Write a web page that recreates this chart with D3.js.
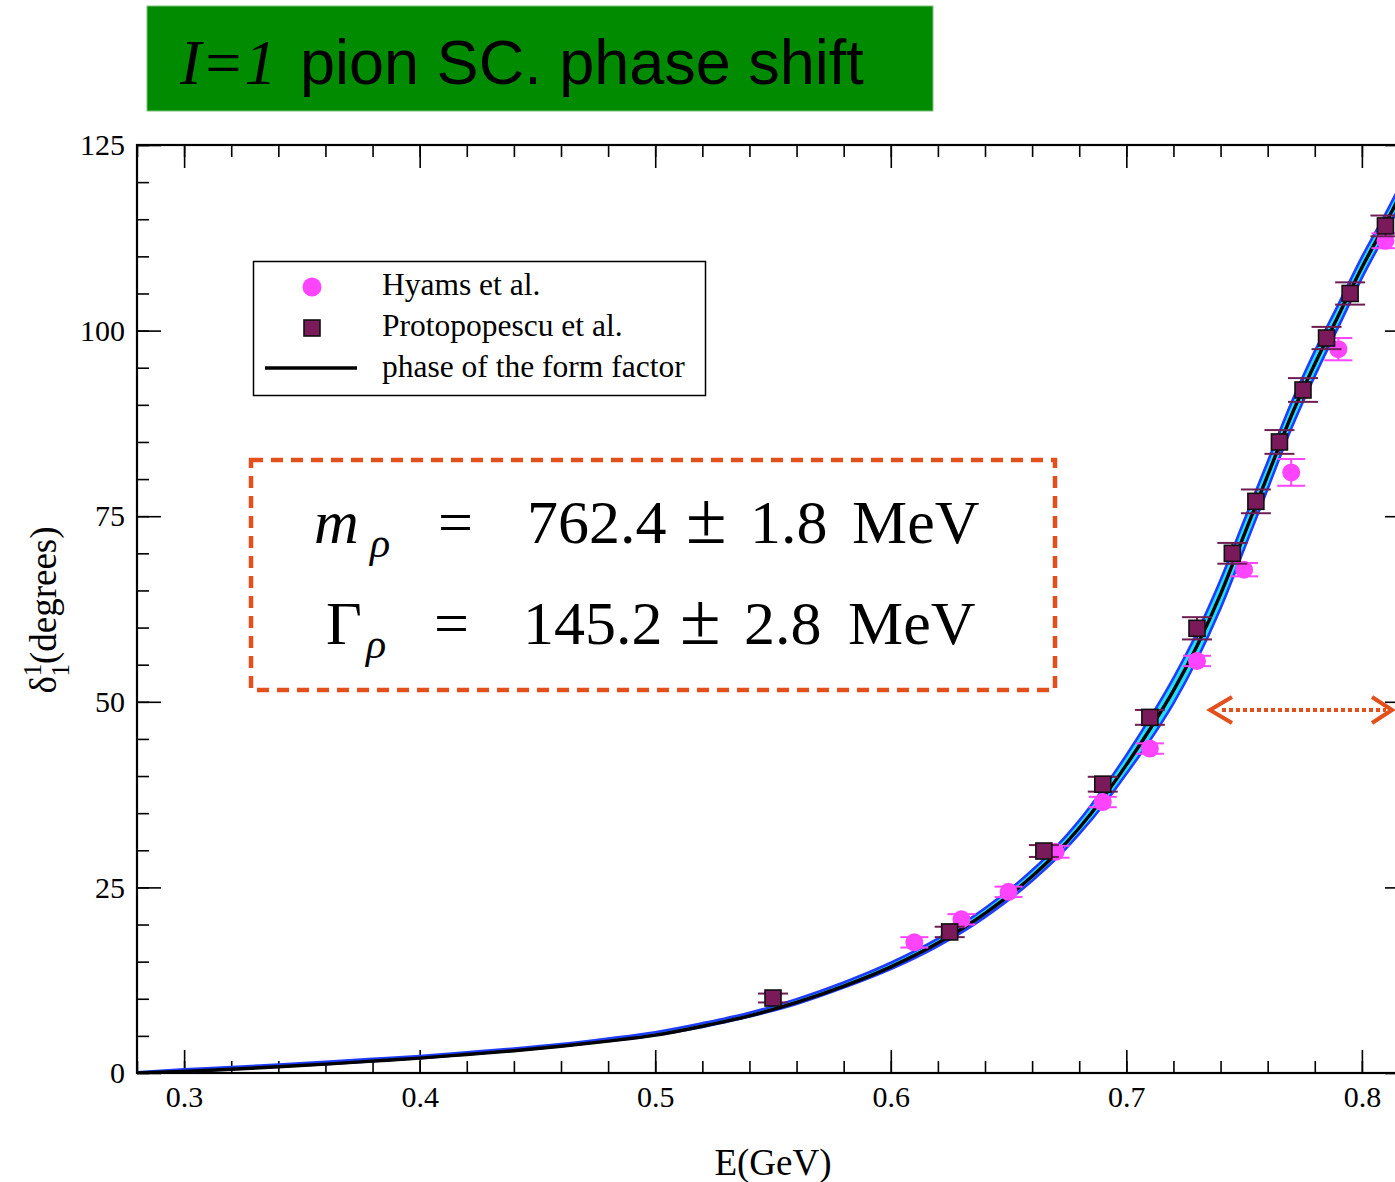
<!DOCTYPE html>
<html>
<head>
<meta charset="utf-8">
<script src="https://cdn.jsdelivr.net/npm/d3@7"></script>
<style>
  html, body { margin: 0; padding: 0; background: #ffffff; }
  svg { display: block; }
</style>
</head>
<body>
<svg id="chart" width="1395" height="1182"></svg>
<script>
// ---------------- data ----------------
const curveE      = [0.28, 0.30, 0.32, 0.34, 0.36, 0.38, 0.40, 0.42, 0.44, 0.46, 0.48, 0.50, 0.52, 0.54, 0.56, 0.58, 0.60, 0.62, 0.64, 0.66, 0.67, 0.68, 0.69, 0.70, 0.71, 0.72, 0.73, 0.74, 0.75, 0.76, 0.77, 0.78, 0.79, 0.80, 0.81, 0.82];
const curveCenter = [0.0, 0.2, 0.5, 0.85, 1.2, 1.6, 2.0, 2.5, 3.0, 3.6, 4.3, 5.1, 6.3, 7.7, 9.5, 11.7, 14.3, 17.5, 21.5, 26.5, 29.5, 33.0, 37.0, 41.5, 46.3, 51.5, 57.5, 64.5, 72.5, 80.5, 88.5, 95.5, 102.0, 108.5, 114.4, 120.6];
const bandHigh    = [0.1, 0.5, 0.8, 1.15, 1.5, 1.9, 2.3, 2.8, 3.3, 3.9, 4.65, 5.5, 6.7, 8.1, 9.95, 12.2, 14.85, 18.1, 22.2, 27.3, 30.4, 34.0, 38.2, 42.8, 47.8, 53.2, 59.3, 66.4, 74.4, 82.3, 90.2, 97.2, 103.5, 109.9, 115.7, 121.9];
const bandLow     = [0.0, 0.2, 0.5, 0.85, 1.2, 1.6, 2.0, 2.5, 3.0, 3.6, 4.3, 5.1, 6.2, 7.6, 9.3, 11.5, 14.0, 17.1, 21.0, 25.9, 28.8, 32.2, 36.0, 40.3, 44.8, 49.8, 55.7, 62.6, 70.6, 78.7, 86.8, 93.9, 100.5, 107.1, 113.1, 119.3];

const hyamsE     = [0.61, 0.63, 0.65, 0.67, 0.69, 0.71, 0.73, 0.75, 0.77, 0.79, 0.81];
const hyamsDelta = [17.6, 20.7, 24.4, 29.8, 36.5, 43.7, 55.5, 67.8, 80.9, 97.5, 112.1];
const hyamsErr   = [0.7, 0.7, 0.7, 0.8, 0.7, 0.7, 0.7, 0.9, 1.8, 1.5, 1.0];

const protoE     = [0.55, 0.625, 0.665, 0.69, 0.71, 0.73, 0.745, 0.755, 0.765, 0.775, 0.785, 0.795, 0.81];
const protoDelta = [10.1, 19.0, 29.9, 38.9, 47.9, 59.9, 70.0, 77.0, 85.0, 92.0, 99.0, 105.0, 114.1];
const protoErr   = [0.6, 0.7, 0.8, 1.0, 1.0, 1.5, 1.4, 1.6, 1.6, 1.6, 1.5, 1.5, 1.4];

const xMajorTicks = [0.3, 0.4, 0.5, 0.6, 0.7, 0.8];
const xTickLabels = ["0.3", "0.4", "0.5", "0.6", "0.7", "0.8"];
const yMajorTicks = [0, 25, 50, 75, 100, 125];
const yTickLabels = ["0", "25", "50", "75", "100", "125"];

const legendLabels = ["Hyams et al.", "Protopopescu et al.", "phase of the form factor"];

// ---------------- layout ----------------
const svg = d3.select("#chart");
const plot = {left: 137, right: 1409, top: 145, bottom: 1073};
const x = d3.scaleLinear().domain([0.28, 0.82]).range([plot.left, plot.right]);
const y = d3.scaleLinear().domain([0, 125]).range([plot.bottom, plot.top]);

const SERIF = "'Liberation Serif', 'Times New Roman', serif";
const SANS = "'Liberation Sans', Arial, sans-serif";

svg.append("rect").attr("width", 1395).attr("height", 1182).attr("fill", "#ffffff");

// Title box
svg.append("rect")
  .attr("x", 147).attr("y", 6).attr("width", 786).attr("height", 105)
  .attr("fill", "#008b00").attr("stroke", "#7cc47c").attr("stroke-width", 1);
const title = svg.append("text")
  .attr("x", 180).attr("y", 84)
  .attr("font-size", 63).attr("fill", "#000");
title.append("tspan").attr("font-family", SERIF).attr("font-style", "italic").attr("font-size", 64).text("I=1");
title.append("tspan").attr("font-family", SANS).attr("dx", 6).text(" pion SC. phase shift");

// clip
svg.append("clipPath").attr("id", "plotclip")
  .append("rect").attr("x", plot.left).attr("y", plot.top)
  .attr("width", plot.right - plot.left).attr("height", plot.bottom - plot.top);

// ---------------- axes ----------------
const minorX = d3.range(0.28, 0.8201, 0.02).map(v => +v.toFixed(3));
const minorY = d3.range(0, 126, 5);

function styleAxis(g) {
  g.select(".domain").remove();
  g.selectAll("line").attr("stroke", "#000").attr("stroke-width", 1.6);
  g.selectAll("text").attr("font-family", SERIF).attr("font-size", 30).attr("fill", "#000");
}

// bottom
svg.append("g").attr("transform", `translate(0,${plot.bottom})`)
  .call(d3.axisBottom(x).tickValues(minorX).tickSizeInner(-12).tickSizeOuter(0).tickFormat(""))
  .call(styleAxis);
svg.append("g").attr("transform", `translate(0,${plot.bottom})`)
  .call(d3.axisBottom(x).tickValues(xMajorTicks).tickSizeInner(-23).tickSizeOuter(0).tickPadding(13)
    .tickFormat((d, i) => xTickLabels[i]))
  .call(styleAxis);
// top
svg.append("g").attr("transform", `translate(0,${plot.top})`)
  .call(d3.axisTop(x).tickValues(minorX).tickSizeInner(-12).tickSizeOuter(0).tickFormat(""))
  .call(styleAxis);
svg.append("g").attr("transform", `translate(0,${plot.top})`)
  .call(d3.axisTop(x).tickValues(xMajorTicks).tickSizeInner(-23).tickSizeOuter(0).tickFormat(""))
  .call(styleAxis);
// left
svg.append("g").attr("transform", `translate(${plot.left},0)`)
  .call(d3.axisLeft(y).tickValues(minorY).tickSizeInner(-12).tickSizeOuter(0).tickFormat(""))
  .call(styleAxis);
svg.append("g").attr("transform", `translate(${plot.left},0)`)
  .call(d3.axisLeft(y).tickValues(yMajorTicks).tickSizeInner(-24).tickSizeOuter(0).tickPadding(12)
    .tickFormat((d, i) => yTickLabels[i]))
  .call(styleAxis);
// right
svg.append("g").attr("transform", `translate(${plot.right},0)`)
  .call(d3.axisRight(y).tickValues(minorY).tickSizeInner(-12).tickSizeOuter(0).tickFormat(""))
  .call(styleAxis);
svg.append("g").attr("transform", `translate(${plot.right},0)`)
  .call(d3.axisRight(y).tickValues(yMajorTicks).tickSizeInner(-24).tickSizeOuter(0).tickFormat(""))
  .call(styleAxis);

// frame
svg.append("rect")
  .attr("x", plot.left).attr("y", plot.top)
  .attr("width", plot.right - plot.left).attr("height", plot.bottom - plot.top)
  .attr("fill", "none").attr("stroke", "#000").attr("stroke-width", 2.2);

// axis titles
svg.append("text")
  .attr("x", 773).attr("y", 1175).attr("text-anchor", "middle")
  .attr("font-family", SERIF).attr("font-size", 37).text("E(GeV)");

const yt = svg.append("text")
  .attr("transform", "translate(56,610) rotate(-90)")
  .attr("text-anchor", "middle")
  .attr("font-family", SERIF).attr("font-size", 37);
yt.append("tspan").text("δ");
yt.append("tspan").attr("font-size", 25).attr("dy", -15).text("1");
yt.append("tspan").attr("font-size", 25).attr("dx", -12).attr("dy", 28).text("1");
yt.append("tspan").attr("dy", -13).text("(degrees)");

// ---------------- curves ----------------
const curveData = curveE.map((e, i) => ({e, c: curveCenter[i], hi: bandHigh[i], lo: bandLow[i]}));
const gCurves = svg.append("g").attr("clip-path", "url(#plotclip)");

gCurves.append("path").datum(curveData)
  .attr("d", d3.area().x(d => x(d.e)).y0(d => y(d.lo)).y1(d => y(d.hi)).curve(d3.curveMonotoneX))
  .attr("fill", "#1fe0ff");
gCurves.append("path").datum(curveData)
  .attr("d", d3.line().x(d => x(d.e)).y(d => y(d.hi)).curve(d3.curveMonotoneX))
  .attr("fill", "none").attr("stroke", "#1f3cff").attr("stroke-width", 2.6);
gCurves.append("path").datum(curveData)
  .attr("d", d3.line().x(d => x(d.e)).y(d => y(d.lo)).curve(d3.curveMonotoneX))
  .attr("fill", "none").attr("stroke", "#1f3cff").attr("stroke-width", 2.6);
gCurves.append("path").datum(curveData)
  .attr("d", d3.line().x(d => x(d.e)).y(d => y(d.c)).curve(d3.curveMonotoneX))
  .attr("fill", "none").attr("stroke", "#000").attr("stroke-width", 3.4);

// ---------------- data points ----------------
const MAG = "#ff44ff";
const PUR = "#7a1a5a";
const PUR_BAR = "#6e1e52";
const hyams = hyamsE.map((e, i) => ({e, d: hyamsDelta[i], err: hyamsErr[i]}));
const proto = protoE.map((e, i) => ({e, d: protoDelta[i], err: protoErr[i]}));

function errorBars(g, data, color, capW) {
  const eb = g.selectAll(null).data(data).enter().append("g");
  eb.append("line").attr("x1", d => x(d.e)).attr("x2", d => x(d.e))
    .attr("y1", d => y(d.d - d.err)).attr("y2", d => y(d.d + d.err))
    .attr("stroke", color).attr("stroke-width", 2);
  eb.append("line").attr("x1", d => x(d.e) - capW / 2).attr("x2", d => x(d.e) + capW / 2)
    .attr("y1", d => y(d.d - d.err)).attr("y2", d => y(d.d - d.err))
    .attr("stroke", color).attr("stroke-width", 2);
  eb.append("line").attr("x1", d => x(d.e) - capW / 2).attr("x2", d => x(d.e) + capW / 2)
    .attr("y1", d => y(d.d + d.err)).attr("y2", d => y(d.d + d.err))
    .attr("stroke", color).attr("stroke-width", 2);
}

const gPts = svg.append("g").attr("clip-path", "url(#plotclip)");
errorBars(gPts, hyams, MAG, 28);
gPts.selectAll(null).data(hyams).enter().append("circle")
  .attr("cx", d => x(d.e)).attr("cy", d => y(d.d)).attr("r", 9)
  .attr("fill", MAG);
errorBars(gPts, proto, PUR_BAR, 30);
gPts.selectAll(null).data(proto).enter().append("rect")
  .attr("x", d => x(d.e) - 8).attr("y", d => y(d.d) - 8)
  .attr("width", 16).attr("height", 16)
  .attr("fill", PUR).attr("stroke", "#111").attr("stroke-width", 1.6);

// ---------------- legend ----------------
const lg = svg.append("g");
lg.append("rect").attr("x", 253.5).attr("y", 261.5).attr("width", 452).attr("height", 134)
  .attr("fill", "#fff").attr("stroke", "#000").attr("stroke-width", 1.5);
lg.append("circle").attr("cx", 312).attr("cy", 287).attr("r", 9.5).attr("fill", MAG);
lg.append("rect").attr("x", 304).attr("y", 320).attr("width", 16).attr("height", 16)
  .attr("fill", PUR).attr("stroke", "#111").attr("stroke-width", 1.6);
lg.append("line").attr("x1", 265).attr("x2", 357).attr("y1", 368).attr("y2", 368)
  .attr("stroke", "#000").attr("stroke-width", 3.4);
lg.selectAll(null).data(legendLabels).enter().append("text")
  .attr("x", 382).attr("y", (d, i) => 295 + i * 41)
  .attr("font-family", SERIF).attr("font-size", 31.5).text(d => d);

// ---------------- parameter box ----------------
const ORANGE = "#e4501c";
svg.append("rect").attr("x", 251).attr("y", 460).attr("width", 804).attr("height", 230)
  .attr("fill", "none").attr("stroke", ORANGE).attr("stroke-width", 4.5)
  .attr("stroke-dasharray", "12,8");

const F = 62;
function formulaLine(yb, sym, symX, subX, parts) {
  const t = svg.append("text").attr("font-family", SERIF).attr("font-size", F).attr("fill", "#000");
  t.append("tspan").attr("x", symX).attr("y", yb).attr("font-style", sym.italic ? "italic" : "normal").text(sym.t);
  t.append("tspan").attr("x", subX).attr("y", yb + 14).attr("font-size", 42).attr("font-style", "italic").text("ρ");
  parts.forEach(p => t.append("tspan").attr("x", p[0]).attr("y", yb).attr("font-size", p[2] || F).text(p[1]));
}
formulaLine(543, {t: "m", italic: true}, 314, 370,
  [[438, "="], [527, "762.4"], [686, "±", 74], [750, "1.8"], [852, "MeV"]]);
formulaLine(644, {t: "Γ", italic: false}, 326, 366,
  [[434, "="], [523, "145.2"], [680, "±", 74], [744, "2.8"], [848, "MeV"]]);

// ---------------- arrow ----------------
svg.append("line").attr("x1", 1222).attr("x2", 1386).attr("y1", 710).attr("y2", 710)
  .attr("stroke", ORANGE).attr("stroke-width", 4).attr("stroke-dasharray", "4,3");
svg.append("polyline").attr("points", "1232,697 1210,710 1232,723")
  .attr("fill", "none").attr("stroke", ORANGE).attr("stroke-width", 4);
svg.append("polyline").attr("points", "1372,697 1392,710 1372,723")
  .attr("fill", "none").attr("stroke", ORANGE).attr("stroke-width", 4);
</script>
</body>
</html>
